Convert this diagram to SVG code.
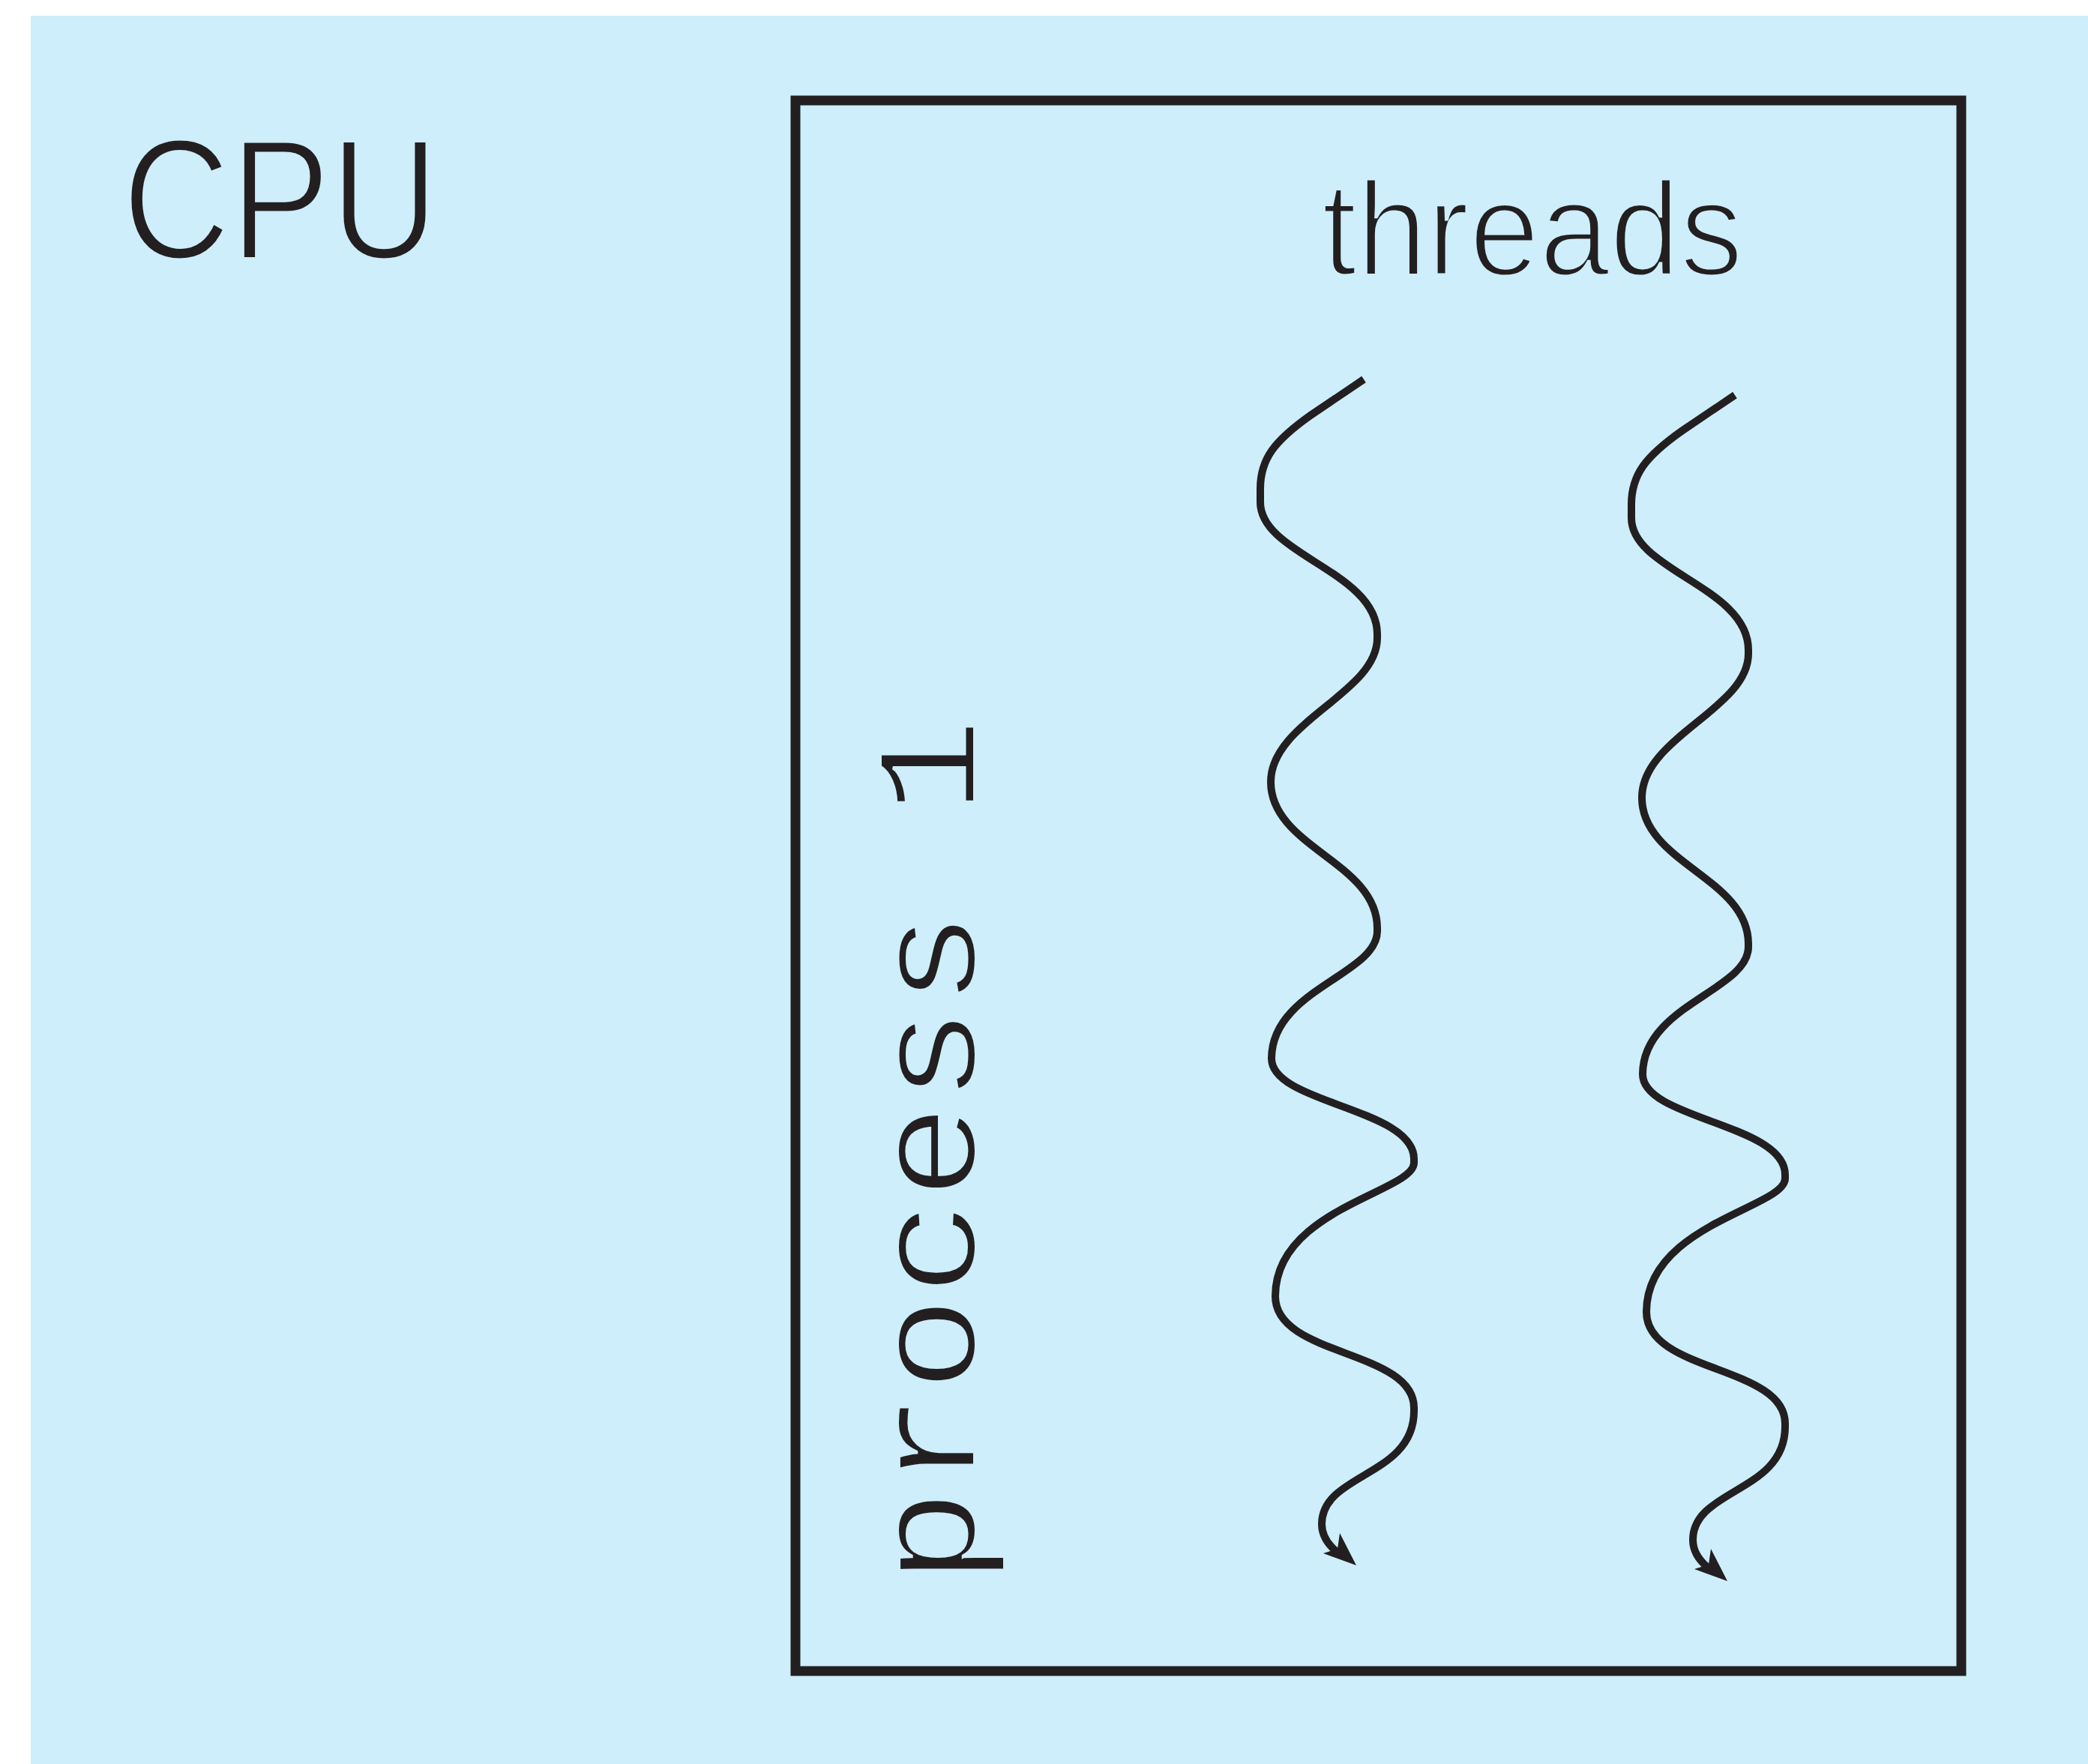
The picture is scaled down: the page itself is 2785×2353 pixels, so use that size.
<svg xmlns="http://www.w3.org/2000/svg" width="2785" height="2353" viewBox="0 0 2785 2353">
  <style>
    .ink { fill: #231f20; }
    .lbl { font-family: "Liberation Sans", Arial, sans-serif; fill: #231f20; stroke: #cdeefa; stroke-width: 5; }
    .mono { font-family: "Liberation Mono", "Courier New", monospace; fill: #231f20; stroke: #cdeefa; stroke-width: 4; }
    .thread { fill: none; stroke: #231f20; stroke-width: 10; stroke-linejoin: round; }
  </style>
  <rect x="0" y="0" width="2785" height="2353" fill="#ffffff"/>
  <g id="cpu">
    <rect x="41" y="21" width="2744" height="2332" fill="#cdeefa"/>
    <text class="lbl" x="163" y="345" font-size="228" textLength="422" lengthAdjust="spacingAndGlyphs">CPU</text>
  </g>
  <g id="process1">
    <rect x="1061" y="134" width="1555" height="2095" fill="none" stroke="#231f20" stroke-width="13"/>
    <text class="mono" transform="translate(1300,2114) rotate(-90)" x="0" y="0" font-size="192" textLength="1156" lengthAdjust="spacingAndGlyphs">process 1</text>
  </g>
  <g id="threads-label">
    <text class="lbl" x="1763" y="367" font-size="178" textLength="562" lengthAdjust="spacingAndGlyphs">threads</text>
  </g>
  <g id="connectors">
    <g id="thread1">
      <path class="thread" d="M1819,506 L1748,554 C1700,588 1681,612 1681,652 L1681,670 C1681,740 1837,762 1837,846 L1837,851 C1837,925 1695,962 1695,1043 C1695,1130 1837,1150 1837,1238 L1837,1242 C1837,1300 1696,1320 1696,1412 C1696,1472 1886,1478 1886,1546 L1886,1551 C1886,1590 1701,1612 1701,1729 C1701,1810 1886,1800 1886,1878 L1886,1882 C1886,1970 1763,1965 1763,2033 C1763,2048 1771,2060 1783,2070"/>
      <polygon class="ink" points="1809,2088 1787,2045 1784,2066 1765,2072"/>
    </g>
    <g id="thread2" transform="translate(495,21)">
      <path class="thread" d="M1819,506 L1748,554 C1700,588 1681,612 1681,652 L1681,670 C1681,740 1837,762 1837,846 L1837,851 C1837,925 1695,962 1695,1043 C1695,1130 1837,1150 1837,1238 L1837,1242 C1837,1300 1696,1320 1696,1412 C1696,1472 1886,1478 1886,1546 L1886,1551 C1886,1590 1701,1612 1701,1729 C1701,1810 1886,1800 1886,1878 L1886,1882 C1886,1970 1763,1965 1763,2033 C1763,2048 1771,2060 1783,2070"/>
      <polygon class="ink" points="1809,2088 1787,2045 1784,2066 1765,2072"/>
    </g>
  </g>
</svg>
